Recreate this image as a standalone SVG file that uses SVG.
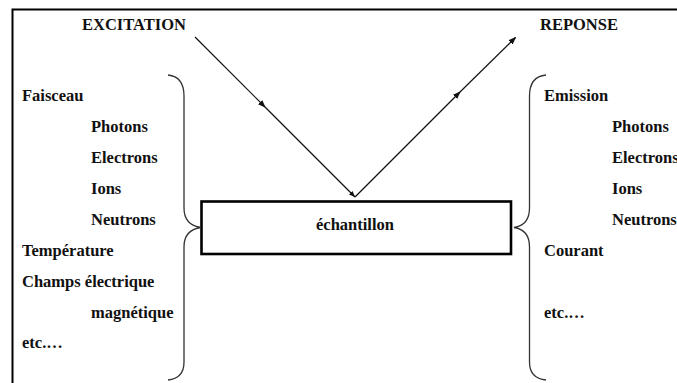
<svg xmlns="http://www.w3.org/2000/svg" width="677" height="383" viewBox="0 0 677 383">
<style>
.brace{fill:none;stroke:#333;stroke-width:1.3}
.ray{stroke:#111;stroke-width:1.2;fill:none}
</style>
<defs>
<marker id="ah" markerWidth="8" markerHeight="6" refX="7" refY="3" orient="auto" markerUnits="userSpaceOnUse">
<path d="M0,0 L8,3 L0,6 Z" fill="#111"/>
</marker>
<marker id="ahs" markerWidth="6" markerHeight="5" refX="6" refY="2.5" orient="auto" markerUnits="userSpaceOnUse">
<path d="M0,0 L6,2.5 L0,5 Z" fill="#111"/>
</marker>
</defs>
<rect width="677" height="383" fill="#fff"/>
<g id="frame">
<path d="M12.5,383 L12.5,9.5 L677,9.5" fill="none" stroke="#000" stroke-width="2"/>
</g>
<g font-family="Liberation Serif, DejaVu Serif, serif" font-weight="bold" font-size="16.5" fill="#111">
<g id="labels">
<text x="82" y="30">EXCITATION</text>
<text x="540" y="30">REPONSE</text>
</g>
<g id="left-list">
<text x="22" y="101">Faisceau</text>
<text x="91" y="132">Photons</text>
<text x="91" y="163">Electrons</text>
<text x="91" y="194">Ions</text>
<text x="91" y="225">Neutrons</text>
<text x="22" y="256">Température</text>
<text x="22" y="287">Champs électrique</text>
<text x="91" y="318">magnétique</text>
<text x="22" y="348">etc.…</text>
</g>
<g id="right-list">
<text x="544" y="101">Emission</text>
<text x="612" y="132">Photons</text>
<text x="612" y="163">Electrons</text>
<text x="612" y="194">Ions</text>
<text x="612" y="225">Neutrons</text>
<text x="544" y="256">Courant</text>
<text x="544" y="318">etc.…</text>
</g>
<g id="echantillon">
<rect x="201.5" y="201.5" width="309.5" height="52.5" fill="#fff" stroke="#000" stroke-width="2.6"/>
<text x="355" y="230" text-anchor="middle">échantillon</text>
</g>
</g>
<g id="left-brace">
<path class="brace" d="M168,75 C178,76 184,82 184,96 L184,208 C184,220 190,226 201,227.5 C190,229 184,235 184,247 L184,362 C184,374 178,379 168,380"/>
</g>
<g id="right-brace">
<path class="brace" d="M546,75 C536,76 529.5,82 529.5,96 L529.5,208 C529.5,220 524,226 514,227.5 C524,229 529.5,235 529.5,247 L529.5,362 C529.5,374 536,379 546,380"/>
</g>
<g id="connectors">
<line class="ray" x1="195" y1="37" x2="265" y2="107" marker-end="url(#ah)"/>
<line class="ray" x1="265" y1="107" x2="355" y2="197" marker-end="url(#ahs)"/>
<line class="ray" x1="355" y1="197" x2="460" y2="92" marker-end="url(#ah)"/>
<line class="ray" x1="460" y1="92" x2="515.5" y2="37.5" marker-end="url(#ah)"/>
</g>
</svg>
